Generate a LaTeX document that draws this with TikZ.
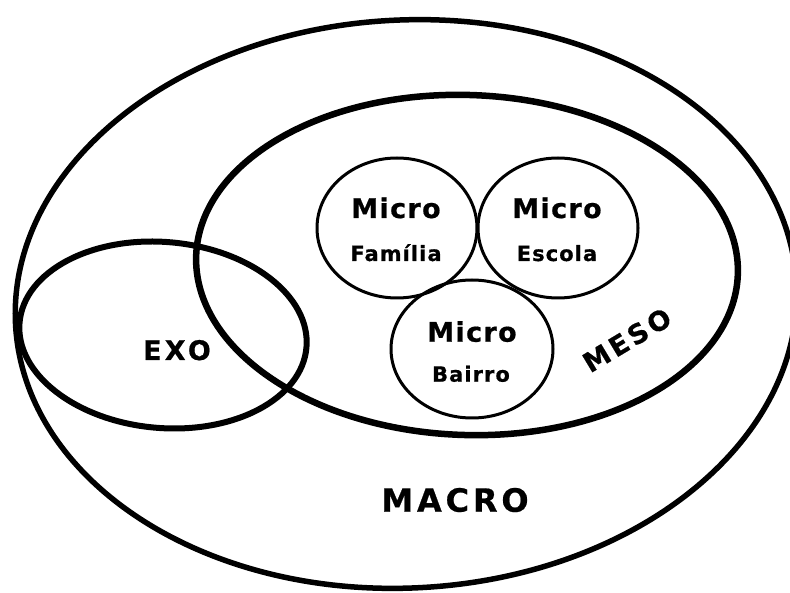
\documentclass[tikz,border=0pt]{standalone}
\usepackage{fontspec}
\newfontfamily\lblfont[BoldFeatures={FakeBold=0.6}]{DejaVu Sans}
\usetikzlibrary{shapes.geometric,positioning}

\begin{document}
\begin{tikzpicture}[x=1pt,y=1pt,
  ring/.style={draw, ellipse, inner sep=0pt, line width=6.5pt},
  micro/.style={draw, ellipse, inner sep=0pt, line width=3pt, minimum width=160pt, minimum height=140pt},
  head/.style={anchor=base, inner sep=0pt, font=\lblfont\addfontfeature{LetterSpace=5}\bfseries\fontsize{27}{30}\selectfont},
  sub/.style={anchor=base, inner sep=0pt, font=\lblfont\addfontfeature{LetterSpace=5}\bfseries\fontsize{21}{24}\selectfont},
  level/.style={inner sep=0pt, font=\lblfont\addfontfeature{LetterSpace=12}\bfseries\fontsize{27}{30}\selectfont}]
  \useasboundingbox (0,0) rectangle (790,592);

  \node[ring, line width=5.5pt, minimum width=782pt, minimum height=568pt, rotate=3] (macro) at (406,288) {};
  \node[ring, minimum width=542pt, minimum height=340pt, rotate=-2] (meso) at (467,327) {};
  \node[ring, line width=6pt, minimum width=288pt, minimum height=186pt, rotate=-5] (exo) at (163,257) {};

  \node[micro] (familia) at (397,364) {};
  \node[micro] (escola) at (558,364) {};
  \node[micro, minimum width=162pt, minimum height=138pt] (bairro) at (472,243) {};

  \node[head] (familia-t) at (396,374) {Micro};
  \node[sub] (familia-s) at (396,331) {Família};
  \node[head] (escola-t) at (557,374) {Micro};
  \node[sub] (escola-s) at (557,331) {Escola};
  \node[head] (bairro-t) at (472,250.3) {Micro};
  \node[sub] (bairro-s) at (471,210.3) {Bairro};

  \node[level, anchor=base] (exo-t) at (177,232) {EXO};
  \node[level, rotate=31] (meso-t) at (627,252) {MESO};
  \node[level, anchor=base, font=\lblfont\addfontfeature{LetterSpace=12}\bfseries\fontsize{32}{36}\selectfont] (macro-t) at (455,80.3) {MACRO};
\end{tikzpicture}
\end{document}
